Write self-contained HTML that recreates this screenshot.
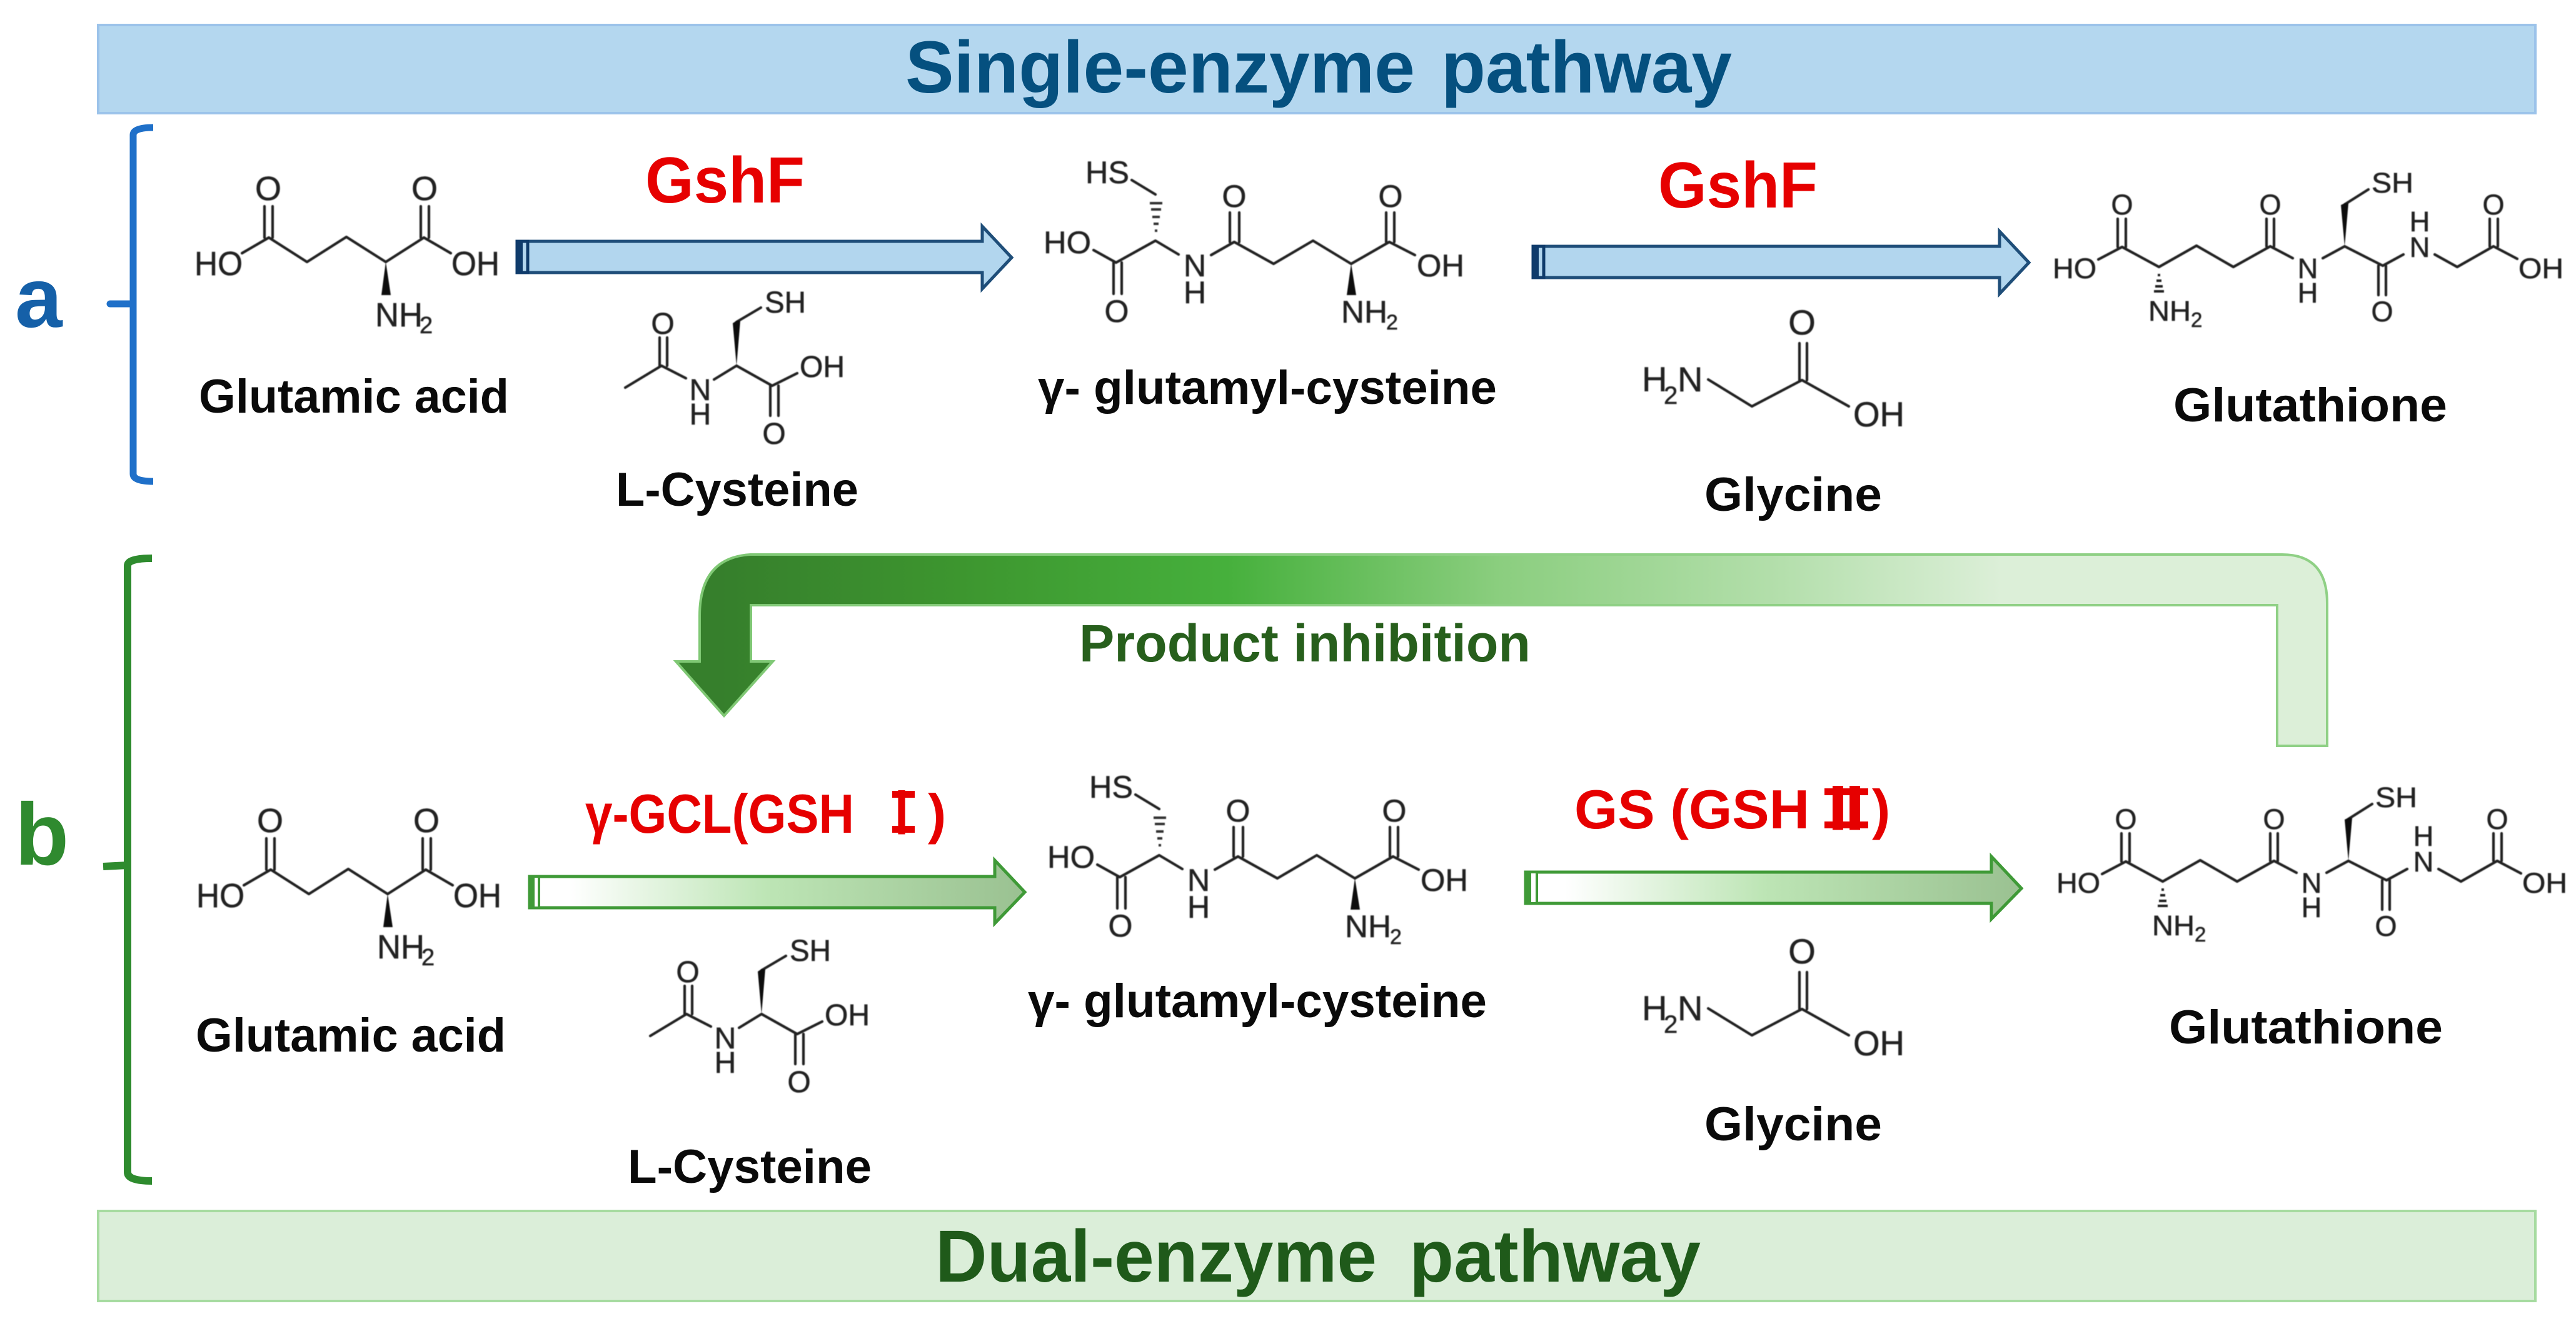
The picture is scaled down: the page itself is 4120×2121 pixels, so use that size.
<!DOCTYPE html>
<html><head><meta charset="utf-8"><style>
html,body{margin:0;padding:0;background:#fff}
svg{display:block}
text{font-family:"Liberation Sans","Noto Sans CJK SC",sans-serif}
.b{font-weight:bold}
.l{font-weight:bold;font-size:76px;fill:#0a0a0a}
.r{font-weight:bold;fill:#e60000}
.bd{stroke:#222;stroke-width:4.2;fill:none;stroke-linecap:round;stroke-linejoin:round}
.w{fill:#111}
.c{fill:#222;stroke:#222;stroke-width:.6}
</style></head><body>
<svg xmlns="http://www.w3.org/2000/svg" width="4120" height="2121" viewBox="0 0 4120 2121">
<defs>
<linearGradient id="bent" gradientUnits="userSpaceOnUse" x1="1119" y1="0" x2="3722" y2="0">
<stop offset=".013" stop-color="#367f2c"/><stop offset=".16" stop-color="#3d962f"/><stop offset=".324" stop-color="#46b03c"/><stop offset=".492" stop-color="#8bce7f"/><stop offset=".665" stop-color="#b4dfac"/><stop offset=".80" stop-color="#dcefd8"/><stop offset="1" stop-color="#dcefd8"/>
</linearGradient>
<linearGradient id="bents" gradientUnits="userSpaceOnUse" x1="1119" y1="0" x2="3722" y2="0">
<stop offset="0" stop-color="#7fc874"/><stop offset=".5" stop-color="#8fd085"/><stop offset="1" stop-color="#8fd085"/>
</linearGradient>
<linearGradient id="g1" gradientUnits="userSpaceOnUse" x1="847" y1="0" x2="1639" y2="0">
<stop offset=".08" stop-color="#ffffff"/><stop offset=".48" stop-color="#bde5b5"/><stop offset="1" stop-color="#9ac191"/>
</linearGradient>
<linearGradient id="g2" gradientUnits="userSpaceOnUse" x1="2440" y1="0" x2="3233" y2="0">
<stop offset=".08" stop-color="#ffffff"/><stop offset=".48" stop-color="#bde5b5"/><stop offset="1" stop-color="#9ac191"/>
</linearGradient>
<filter id="s" x="-5%" y="-5%" width="110%" height="110%"><feGaussianBlur stdDeviation="0.9"/></filter>
</defs>
<rect width="4120" height="2121" fill="#fff"/>

<!-- banners -->
<rect x="157" y="40" width="3898" height="141" fill="#b4d7ef" stroke="#9cc3ea" stroke-width="4"/>
<text class="b" x="1448" y="148" font-size="118" fill="#05507f" textLength="815" lengthAdjust="spacingAndGlyphs">Single-enzyme</text>
<text class="b" x="2305" y="148" font-size="118" fill="#05507f" textLength="465" lengthAdjust="spacingAndGlyphs">pathway</text>
<rect x="157" y="1937" width="3898" height="144" fill="#dbeed9" stroke="#a6dba0" stroke-width="4"/>
<text class="b" x="1496" y="2050" font-size="118" fill="#1f5a1a" textLength="706" lengthAdjust="spacingAndGlyphs">Dual-enzyme</text>
<text class="b" x="2254" y="2050" font-size="118" fill="#1f5a1a" textLength="466" lengthAdjust="spacingAndGlyphs">pathway</text>

<!-- side letters -->
<text class="b" x="24" y="523" font-size="136" fill="#1560a8">a</text>
<text class="b" x="24" y="1383" font-size="141" fill="#2f8a2f">b</text>

<!-- brackets -->
<path d="M245 204 Q213 204 213 216 L213 758 Q213 770 245 770" fill="none" stroke="#1f70c9" stroke-width="11"/>
<path d="M176 486 L212 486" fill="none" stroke="#1f70c9" stroke-width="11" stroke-linecap="round"/>
<path d="M243 893 Q204 893 204 905 L204 1875 Q204 1889 243 1889" fill="none" stroke="#2e8b2e" stroke-width="12"/>
<path d="M165 1386 L204 1384" fill="none" stroke="#2e8b2e" stroke-width="12"/>

<!-- blue arrows -->
<polygon points="827,386 1571,386 1571,362 1618,412 1571,462 1571,436 827,436" fill="#b2d6ee" stroke="#1f4e79" stroke-width="5" stroke-linejoin="miter"/>
<rect x="827" y="386" width="17" height="50" fill="#b2d6ee" stroke="#0f3b6b" stroke-width="5"/>
<rect x="827" y="386" width="9" height="50" fill="#0f3b6b"/>
<polygon points="2452,394 3198,394 3198,370 3245,420 3198,470 3198,444 2452,444" fill="#b2d6ee" stroke="#1f4e79" stroke-width="5"/>
<rect x="2452" y="394" width="17" height="50" fill="#b2d6ee" stroke="#0f3b6b" stroke-width="5"/>
<rect x="2452" y="394" width="9" height="50" fill="#0f3b6b"/>

<!-- green arrows -->
<polygon points="847,1402 1591,1402 1591,1376 1639,1427 1591,1477 1591,1452 847,1452" fill="url(#g1)" stroke="#3f9a37" stroke-width="5"/>
<rect x="847" y="1402" width="15" height="50" fill="#fff" stroke="#3f9a37" stroke-width="4"/>
<rect x="847" y="1402" width="8" height="50" fill="#3f9a37"/>
<polygon points="2440,1395 3185,1395 3185,1370 3233,1421 3185,1470 3185,1445 2440,1445" fill="url(#g2)" stroke="#3f9a37" stroke-width="5"/>
<rect x="2440" y="1395" width="18" height="50" fill="#fff" stroke="#3f9a37" stroke-width="4"/>
<rect x="2440" y="1395" width="9" height="50" fill="#3f9a37"/>

<!-- inhibition bent arrow -->
<path d="M3642 1193 L3722 1193 L3722 965 Q3722 887 3650 887 L1200 887 Q1119 892 1119 985 L1119 1058 L1081 1058 L1158 1145 L1236 1058 L1201 1058 L1201 968 L3642 968 Z" fill="url(#bent)" stroke="url(#bents)" stroke-width="4"/>
<text class="b" x="1726" y="1058" font-size="84" fill="#275f1c" textLength="722" lengthAdjust="spacingAndGlyphs">Product inhibition</text>

<!-- enzyme labels -->
<text class="r" x="1032" y="324" font-size="104" textLength="255" lengthAdjust="spacingAndGlyphs">GshF</text>
<text class="r" x="2652" y="332" font-size="104" textLength="255" lengthAdjust="spacingAndGlyphs">GshF</text>
<text class="r" x="936" y="1332" font-size="88" textLength="430" lengthAdjust="spacingAndGlyphs">γ-GCL(GSH</text>
<text class="r" x="1415" y="1332" font-size="88" style="font-family:'Noto Sans CJK SC',sans-serif" stroke="#e60000" stroke-width="5" textLength="54" lengthAdjust="spacingAndGlyphs">Ⅰ</text>
<rect x="1427" y="1265" width="36" height="11" fill="#e60000"/><rect x="1427" y="1321" width="36" height="11" fill="#e60000"/>
<text class="r" x="1484" y="1332" font-size="88">)</text>
<text class="r" x="2518" y="1325" font-size="88" textLength="376" lengthAdjust="spacingAndGlyphs">GS (GSH</text>
<text class="r" x="2912" y="1325" font-size="88" style="font-family:'Noto Sans CJK SC',sans-serif" stroke="#e60000" stroke-width="5" textLength="82" lengthAdjust="spacingAndGlyphs">Ⅱ</text>
<rect x="2918" y="1261" width="70" height="11" fill="#e60000"/><rect x="2918" y="1314" width="70" height="11" fill="#e60000"/>
<text class="r" x="2994" y="1325" font-size="88">)</text>

<!-- compound names -->
<text class="l" x="318" y="660" textLength="496" lengthAdjust="spacingAndGlyphs">Glutamic acid</text>
<text class="l" x="985" y="809" textLength="388" lengthAdjust="spacingAndGlyphs">L-Cysteine</text>
<text class="l" x="1660" y="646" textLength="734" lengthAdjust="spacingAndGlyphs">γ- glutamyl-cysteine</text>
<text class="l" x="2726" y="817" textLength="284" lengthAdjust="spacingAndGlyphs">Glycine</text>
<text class="l" x="3476" y="674" textLength="438" lengthAdjust="spacingAndGlyphs">Glutathione</text>
<text class="l" x="313" y="1682" textLength="496" lengthAdjust="spacingAndGlyphs">Glutamic acid</text>
<text class="l" x="1004" y="1892" textLength="390" lengthAdjust="spacingAndGlyphs">L-Cysteine</text>
<text class="l" x="1644" y="1627" textLength="734" lengthAdjust="spacingAndGlyphs">γ- glutamyl-cysteine</text>
<text class="l" x="2726" y="1824" textLength="284" lengthAdjust="spacingAndGlyphs">Glycine</text>
<text class="l" x="3469" y="1669" textLength="438" lengthAdjust="spacingAndGlyphs">Glutathione</text>

<g filter="url(#s)">
<!-- Glutamic acid top -->
<g>
<path class="bd" d="M387 405L430 380L491 419L554 379L617 419L678 380L721 405M423 330V380M436 330V380M673 330V380M686 330V380"/>
<polygon class="w" points="617,419 610,472 625,472"/>
<g class="c" font-size="54">
<text x="311" y="440" textLength="77" lengthAdjust="spacingAndGlyphs">HO</text>
<text x="722" y="440" textLength="77" lengthAdjust="spacingAndGlyphs">OH</text>
<text x="429" y="320" text-anchor="middle">O</text>
<text x="679" y="320" text-anchor="middle">O</text>
<text x="600" y="522" textLength="76" lengthAdjust="spacingAndGlyphs">NH</text>
<text x="671" y="533" font-size="38">2</text>
</g></g>

<!-- Glutamic acid bottom -->
<g transform="translate(3,1011)">
<path class="bd" d="M387 405L430 380L491 419L554 379L617 419L678 380L721 405M423 330V380M436 330V380M673 330V380M686 330V380"/>
<polygon class="w" points="617,419 610,472 625,472"/>
<g class="c" font-size="54">
<text x="311" y="440" textLength="77" lengthAdjust="spacingAndGlyphs">HO</text>
<text x="722" y="440" textLength="77" lengthAdjust="spacingAndGlyphs">OH</text>
<text x="429" y="320" text-anchor="middle">O</text>
<text x="679" y="320" text-anchor="middle">O</text>
<text x="600" y="522" textLength="76" lengthAdjust="spacingAndGlyphs">NH</text>
<text x="671" y="533" font-size="38">2</text>
</g></g>

<!-- L-Cysteine top -->
<g>
<path class="bd" d="M1000 620L1058 585L1097 605M1142 607L1178 585L1235 617L1275 597M1178 515L1217 492M1055 540V585M1067 540V585M1232 617V665M1245 617V665"/>
<polygon class="w" points="1178,585 1172,517 1178,513 1184,513"/>
<g class="c" font-size="48">
<text x="1060" y="534" text-anchor="middle">O</text>
<text x="1238" y="710" text-anchor="middle">O</text>
<text x="1120" y="640" text-anchor="middle">N</text>
<text x="1120" y="679" text-anchor="middle">H</text>
<text x="1223" y="500" textLength="66" lengthAdjust="spacingAndGlyphs">SH</text>
<text x="1279" y="603" textLength="72" lengthAdjust="spacingAndGlyphs">OH</text>
</g></g>

<!-- L-Cysteine bottom -->
<g transform="translate(40,1037)">
<path class="bd" d="M1000 620L1058 585L1097 605M1142 607L1178 585L1235 617L1275 597M1178 515L1217 492M1055 540V585M1067 540V585M1232 617V665M1245 617V665"/>
<polygon class="w" points="1178,585 1172,517 1178,513 1184,513"/>
<g class="c" font-size="48">
<text x="1060" y="534" text-anchor="middle">O</text>
<text x="1238" y="710" text-anchor="middle">O</text>
<text x="1120" y="640" text-anchor="middle">N</text>
<text x="1120" y="679" text-anchor="middle">H</text>
<text x="1223" y="500" textLength="66" lengthAdjust="spacingAndGlyphs">SH</text>
<text x="1279" y="603" textLength="72" lengthAdjust="spacingAndGlyphs">OH</text>
</g></g>

<!-- gamma-glutamyl-cysteine top -->
<g>
<path class="bd" d="M1810 288L1848 311M1749 400L1785 420L1848 385L1885 407M1937 408L1974 387L2037 422L2100 385L2161 422L2222 387L2263 408M1781 420V470M1794 420V470M1967 340V387M1982 340V387M2217 340V387M2230 340V387"/>
<path d="M1839 325H1859M1841 335H1857M1843 347H1855M1845 358H1853M1847 369H1851" stroke="#333" stroke-width="4"/>
<polygon class="w" points="2161,422 2154,472 2169,472"/>
<g class="c" font-size="50">
<text x="1736" y="293" textLength="70" lengthAdjust="spacingAndGlyphs">HS</text>
<text x="1669" y="405" textLength="76" lengthAdjust="spacingAndGlyphs">HO</text>
<text x="2266" y="442" textLength="76" lengthAdjust="spacingAndGlyphs">OH</text>
<text x="1786" y="515" text-anchor="middle">O</text>
<text x="1974" y="331" text-anchor="middle">O</text>
<text x="2224" y="331" text-anchor="middle">O</text>
<text x="1911" y="442" text-anchor="middle">N</text>
<text x="1911" y="485" text-anchor="middle">H</text>
<text x="2145" y="516" textLength="74" lengthAdjust="spacingAndGlyphs">NH</text>
<text x="2217" y="527" font-size="34">2</text>
</g></g>

<!-- gamma-glutamyl-cysteine bottom -->
<g transform="translate(6,983)">
<path class="bd" d="M1810 288L1848 311M1749 400L1785 420L1848 385L1885 407M1937 408L1974 387L2037 422L2100 385L2161 422L2222 387L2263 408M1781 420V470M1794 420V470M1967 340V387M1982 340V387M2217 340V387M2230 340V387"/>
<path d="M1839 325H1859M1841 335H1857M1843 347H1855M1845 358H1853M1847 369H1851" stroke="#333" stroke-width="4"/>
<polygon class="w" points="2161,422 2154,472 2169,472"/>
<g class="c" font-size="50">
<text x="1736" y="293" textLength="70" lengthAdjust="spacingAndGlyphs">HS</text>
<text x="1669" y="405" textLength="76" lengthAdjust="spacingAndGlyphs">HO</text>
<text x="2266" y="442" textLength="76" lengthAdjust="spacingAndGlyphs">OH</text>
<text x="1786" y="515" text-anchor="middle">O</text>
<text x="1974" y="331" text-anchor="middle">O</text>
<text x="2224" y="331" text-anchor="middle">O</text>
<text x="1911" y="442" text-anchor="middle">N</text>
<text x="1911" y="485" text-anchor="middle">H</text>
<text x="2145" y="516" textLength="74" lengthAdjust="spacingAndGlyphs">NH</text>
<text x="2217" y="527" font-size="34">2</text>
</g></g>

<!-- Glycine top -->
<g>
<path class="bd" d="M2732 607L2802 650L2882 608L2957 650M2878 549V608M2890 549V608"/>
<g class="c" font-size="56">
<text x="2882" y="535" text-anchor="middle">O</text>
<text x="2626" y="626">H</text>
<text x="2661" y="646" font-size="40">2</text>
<text x="2683" y="626">N</text>
<text x="2964" y="682" textLength="82" lengthAdjust="spacingAndGlyphs">OH</text>
</g></g>

<!-- Glycine bottom -->
<g transform="translate(0,1006)">
<path class="bd" d="M2732 607L2802 650L2882 608L2957 650M2878 549V608M2890 549V608"/>
<g class="c" font-size="56">
<text x="2882" y="535" text-anchor="middle">O</text>
<text x="2626" y="626">H</text>
<text x="2661" y="646" font-size="40">2</text>
<text x="2683" y="626">N</text>
<text x="2964" y="682" textLength="82" lengthAdjust="spacingAndGlyphs">OH</text>
</g></g>

<!-- Glutathione top -->
<g>
<path class="bd" d="M3356 415L3394 395L3453 427L3513 393L3572 427L3631 394L3667 413M3715 413L3750 394L3811 425L3844 407M3894 407L3930 427L3988 394L4026 414M3750 327L3788 303M3387 350V395M3400 350V395M3625 350V394M3637 350V394M3982 350V394M3995 350V394M3804 425V472M3816 425V472"/>
<polygon class="w" points="3750,394 3744,328 3750,325 3756,325"/>
<path d="M3451 440H3455M3449 449H3457M3447 458H3459M3445 466H3461" stroke="#222" stroke-width="4"/>
<g class="c" font-size="45">
<text x="3394" y="343" text-anchor="middle">O</text>
<text x="3631" y="343" text-anchor="middle">O</text>
<text x="3988" y="343" text-anchor="middle">O</text>
<text x="3810" y="514" text-anchor="middle">O</text>
<text x="3283" y="445" textLength="70" lengthAdjust="spacingAndGlyphs">HO</text>
<text x="4028" y="445" textLength="72" lengthAdjust="spacingAndGlyphs">OH</text>
<text x="3691" y="445" text-anchor="middle">N</text>
<text x="3691" y="484" text-anchor="middle">H</text>
<text x="3870" y="411" text-anchor="middle">N</text>
<text x="3870" y="370" text-anchor="middle">H</text>
<text x="3793" y="308" textLength="67" lengthAdjust="spacingAndGlyphs">SH</text>
<text x="3436" y="513" textLength="68" lengthAdjust="spacingAndGlyphs">NH</text>
<text x="3504" y="523" font-size="33">2</text>
</g></g>

<!-- Glutathione bottom -->
<g transform="translate(6,983)">
<path class="bd" d="M3356 415L3394 395L3453 427L3513 393L3572 427L3631 394L3667 413M3715 413L3750 394L3811 425L3844 407M3894 407L3930 427L3988 394L4026 414M3750 327L3788 303M3387 350V395M3400 350V395M3625 350V394M3637 350V394M3982 350V394M3995 350V394M3804 425V472M3816 425V472"/>
<polygon class="w" points="3750,394 3744,328 3750,325 3756,325"/>
<path d="M3451 440H3455M3449 449H3457M3447 458H3459M3445 466H3461" stroke="#222" stroke-width="4"/>
<g class="c" font-size="45">
<text x="3394" y="343" text-anchor="middle">O</text>
<text x="3631" y="343" text-anchor="middle">O</text>
<text x="3988" y="343" text-anchor="middle">O</text>
<text x="3810" y="514" text-anchor="middle">O</text>
<text x="3283" y="445" textLength="70" lengthAdjust="spacingAndGlyphs">HO</text>
<text x="4028" y="445" textLength="72" lengthAdjust="spacingAndGlyphs">OH</text>
<text x="3691" y="445" text-anchor="middle">N</text>
<text x="3691" y="484" text-anchor="middle">H</text>
<text x="3870" y="411" text-anchor="middle">N</text>
<text x="3870" y="370" text-anchor="middle">H</text>
<text x="3793" y="308" textLength="67" lengthAdjust="spacingAndGlyphs">SH</text>
<text x="3436" y="513" textLength="68" lengthAdjust="spacingAndGlyphs">NH</text>
<text x="3504" y="523" font-size="33">2</text>
</g></g>
</g>
</svg>
</body></html>
